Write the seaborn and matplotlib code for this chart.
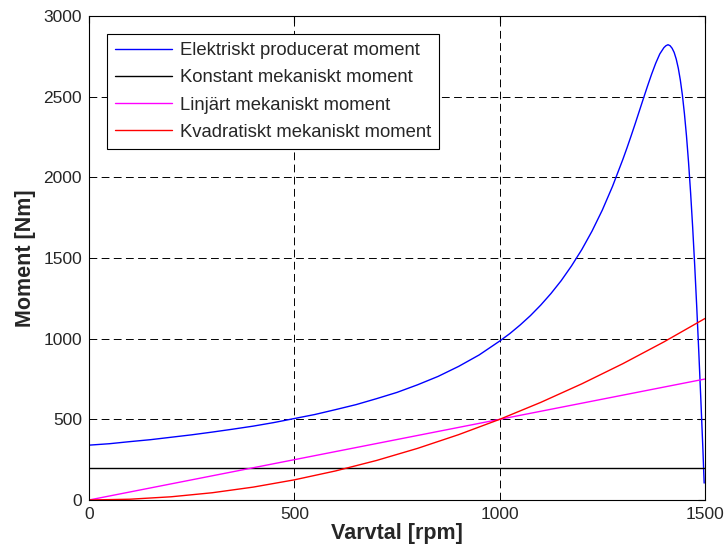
import matplotlib
matplotlib.use("Agg")
import matplotlib.pyplot as plt
import seaborn as sns
import pandas as pd

# Electric torque
n_el = [0, 50, 100, 150, 200, 250, 300, 350, 400, 450, 500, 550, 600, 650, 700,
        750, 800, 850, 900, 950, 1000, 1025, 1050, 1075, 1100, 1125, 1150, 1175,
        1200, 1225, 1250, 1275, 1300, 1310, 1320, 1330, 1340, 1350, 1360, 1370,
        1380, 1390, 1400, 1405, 1410, 1415, 1420, 1425, 1430, 1435, 1440, 1445,
        1450, 1455, 1460, 1465, 1470, 1475, 1480, 1485, 1490, 1495, 1498]
t_el = [340, 349, 362, 374, 389, 404, 421, 439, 458, 480, 505, 530, 560, 591, 628,
        667, 714, 766, 828, 899, 985, 1032, 1085, 1143, 1208, 1280, 1360, 1451,
        1552, 1667, 1797, 1945, 2111, 2182, 2256, 2332, 2410, 2488, 2565, 2639,
        2707, 2765, 2804, 2816, 2822, 2816, 2800, 2774, 2733, 2677, 2603, 2510,
        2394, 2256, 2093, 1905, 1692, 1454, 1194, 915, 619, 312, 105]
# Constant mechanical torque
n_const = [0, 1500]
t_const = [200, 200]
# Linear mechanical torque
n_lin = [0, 1500]
t_lin = [0, 750]
# Quadratic mechanical torque
n_quad = [0, 100, 200, 300, 400, 500, 600, 700, 800, 900, 1000, 1100, 1200, 1300, 1400, 1500]
t_quad = [0, 5, 20, 45, 80, 125, 180, 245, 320, 405, 500, 605, 720, 845, 980, 1125]

labels = ["Elektriskt producerat moment", "Konstant mekaniskt moment",
          "Linjärt mekaniskt moment", "Kvadratiskt mekaniskt moment"]
colors = ["#0000ff", "#000000", "#ff00ff", "#ff0000"]
xticks = [0, 500, 1000, 1500]
yticks = [0, 500, 1000, 1500, 2000, 2500, 3000]

sns.set_style("white")
plt.rcParams["font.family"] = ["Liberation Sans", "DejaVu Sans"]

fig = plt.figure(figsize=(7.27, 5.56), dpi=100)
ax = fig.add_axes([0.1224, 0.1007, 0.8473, 0.8705])

series = [(n_el, t_el), (n_const, t_const), (n_lin, t_lin), (n_quad, t_quad)]
for (xs, ys), lab, col in zip(series, labels, colors):
    df = pd.DataFrame({"n": xs, "t": ys})
    sns.lineplot(data=df, x="n", y="t", ax=ax, color=col, linewidth=1.0,
                 label=lab, estimator=None, sort=False)

ax.set_xlim(0, 1500)
ax.set_ylim(0, 3000)
ax.set_xticks(xticks)
ax.set_yticks(yticks)
ax.tick_params(direction="in", length=5, labelsize=12.5, color="black",
               top=True, right=True, pad=5)
ax.grid(True, color="black", linestyle=(0, (8, 4.5)), linewidth=0.7)
for s in ax.spines.values():
    s.set_color("black")
    s.set_linewidth(0.8)
ax.set_xlabel("Varvtal [rpm]", fontsize=15.5, fontweight="bold", labelpad=1)
ax.set_ylabel("Moment [Nm]", fontsize=15.5, fontweight="bold", labelpad=5)

leg = ax.legend(loc="upper left", bbox_to_anchor=(0.029, 0.963), fontsize=13.3,
                frameon=True, fancybox=False, edgecolor="black", framealpha=1,
                handlelength=3.1, borderpad=0.45, labelspacing=0.55,
                handletextpad=0.4, borderaxespad=0)
leg.get_frame().set_linewidth(0.8)

fig.savefig("out.png", dpi=100)
